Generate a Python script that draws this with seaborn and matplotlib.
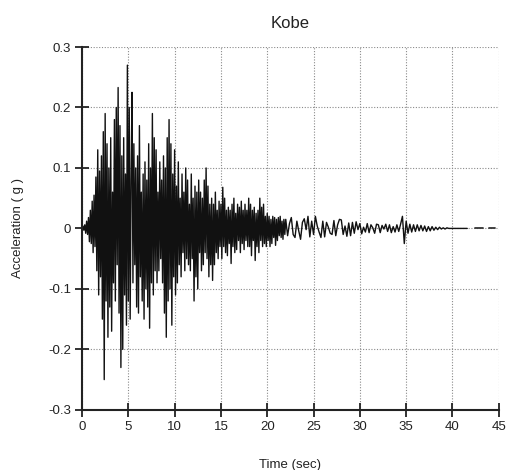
import matplotlib
matplotlib.use("Agg")
import matplotlib.pyplot as plt
import numpy as np
import pandas as pd
import seaborn as sns
from matplotlib.ticker import FuncFormatter

# ground acceleration (g)
# 0 - 21.9 s, sampled every 0.1 s
acc_fast = [
    0.000, 0.004, -0.003, 0.006, -0.008, 0.012, -0.010, 0.018, -0.022, 0.030,
    -0.025, 0.045, -0.040, 0.055, -0.030, 0.085, -0.070, 0.130, -0.110, 0.095,
    -0.080, 0.120, -0.150, 0.160, -0.250, 0.190, -0.120, 0.140, -0.180, 0.100,
    -0.130, 0.150, -0.170, 0.060, -0.090, 0.180, -0.120, 0.200, -0.060, 0.233,
    -0.140, 0.170, -0.230, 0.120, -0.200, 0.150, -0.110, 0.090, -0.160, 0.270,
    -0.120, 0.200, -0.150, 0.080, 0.225, -0.090, 0.140, -0.060, 0.100, -0.130,
    0.120, -0.140, 0.170, -0.080, 0.060, -0.120, 0.090, -0.150, 0.110, -0.100,
    0.080, -0.130, 0.140, -0.165, 0.100, -0.090, 0.190, -0.110, 0.150, -0.070,
    0.130, -0.090, 0.060, -0.070, 0.110, -0.050, 0.080, -0.090, 0.120, -0.140,
    0.100, -0.180, 0.150, -0.120, 0.180, -0.100, 0.140, -0.160, 0.090, -0.080,
    0.130, -0.110, 0.070, -0.090, 0.110, -0.060, 0.050, -0.080, 0.090, -0.040,
    0.060, -0.070, 0.100, -0.050, 0.080, -0.060, 0.040, -0.070, 0.090, -0.050,
    0.050, -0.120, 0.070, -0.080, 0.060, -0.100, 0.080, -0.040, 0.060, -0.070,
    0.050, -0.060, 0.080, -0.040, 0.100, -0.050, 0.070, -0.080, 0.040, -0.060,
    0.050, -0.086, 0.040, -0.060, 0.060, -0.040, 0.030, -0.050, 0.045, -0.030,
    0.040, -0.050, 0.068, -0.030, 0.050, -0.040, 0.030, -0.045, 0.035, -0.025,
    0.030, -0.058, 0.040, -0.030, 0.050, -0.040, 0.025, -0.035, 0.040, -0.020,
    0.035, -0.040, 0.045, -0.025, 0.030, -0.035, 0.040, -0.020, 0.030, -0.030,
    0.050, -0.030, 0.040, -0.045, 0.030, -0.020, 0.035, -0.053, 0.025, -0.030,
    0.030, -0.040, 0.050, -0.020, 0.035, -0.030, 0.040, -0.025, 0.020, -0.030,
    0.025, -0.020, 0.020, -0.030, 0.015, -0.025, 0.020, -0.015, 0.018, -0.028,
    0.015, -0.020, 0.018, -0.012, 0.020, -0.015, 0.012, -0.018, 0.015, -0.010,
]
# 22 - 41.6 s, sampled every 0.2 s
acc_slow = [
    0.015, -0.012, 0.008, 0.018, -0.010,
    -0.015, 0.012, -0.004, -0.018, 0.010,
    0.016, -0.002, 0.020, -0.014, 0.012,
    -0.010, 0.020, 0.004, -0.006, -0.015,
    0.012, -0.014, 0.010, 0.002, -0.008,
    -0.010, 0.013, -0.012, 0.006, 0.015,
    0.014, -0.010, 0.004, -0.013, 0.009,
    -0.012, 0.010, -0.008, 0.011, -0.002,
    0.008, -0.009, 0.002, -0.006, 0.008,
    -0.007, 0.006, 0.001, -0.008, 0.007,
    0.006, -0.007, 0.005, -0.001, 0.007,
    -0.005, 0.006, -0.007, 0.003, -0.006,
    0.006, -0.005, 0.007, 0.020, -0.025,
    0.012, -0.008, 0.007, -0.006, 0.006,
    -0.005, 0.006, -0.004, 0.005, -0.004,
    0.004, -0.005, 0.003, -0.004, 0.003,
    -0.003, 0.002, -0.002, 0.002, -0.001,
    0.001, -0.001, 0.001, 0.000, 0.000,
    0.000, 0.000, 0.000, 0.000, 0.000,
    0.000, 0.000, 0.000, 0.000,
]
# faint broken pieces of the zero line after the record ends
tail_segments = [([42.4, 43.3], [0.0, 0.0]), ([44.0, 44.6], [0.0, 0.0])]

x_ticks = [0, 5, 10, 15, 20, 25, 30, 35, 40, 45]
y_ticks = [-0.3, -0.2, -0.1, 0, 0.1, 0.2, 0.3]

time = np.concatenate([np.arange(len(acc_fast)) * 0.1,
                       22.0 + np.arange(len(acc_slow)) * 0.2])
df = pd.DataFrame({"time": time, "acc": acc_fast + acc_slow})

sns.set_style("ticks")
plt.rcParams.update({"font.family": ["Liberation Sans", "DejaVu Sans"],
                     "axes.unicode_minus": False})

fig = plt.figure(figsize=(5.19, 4.70), dpi=100)
ax = fig.add_axes([0.158, 0.128, 0.803, 0.772])

sns.lineplot(data=df, x="time", y="acc", ax=ax, color="#111111",
             linewidth=1.0, estimator=None, sort=False)
for seg_t, seg_a in tail_segments:
    sns.lineplot(x=seg_t, y=seg_a, ax=ax, color="#333333", linewidth=1.3)

ax.set_xlim(0, 45)
ax.set_ylim(-0.3, 0.3)
ax.set_xticks(x_ticks)
ax.set_yticks(y_ticks)
ax.yaxis.set_major_formatter(FuncFormatter(lambda v, p: f"{v:g}"))
ax.grid(True, color="#8a8a8a", linestyle=(0, (1, 1.5)), linewidth=0.8)
ax.set_axisbelow(True)

for side in ["top", "right"]:
    ax.spines[side].set_visible(False)
for side in ["left", "bottom"]:
    ax.spines[side].set_color("#222222")
    ax.spines[side].set_linewidth(1.5)
ax.tick_params(direction="inout", length=10, width=1.3, labelsize=9.5,
               colors="#222222", pad=3)

ax.set_title("Kobe", fontsize=12, pad=14, color="#222222")
ax.set_xlabel("Time (sec)", fontsize=9.5, labelpad=19, color="#222222")
ax.set_ylabel("Acceleration ( g )", fontsize=9.5, labelpad=17, color="#222222")

fig.savefig("out.png", dpi=100)
